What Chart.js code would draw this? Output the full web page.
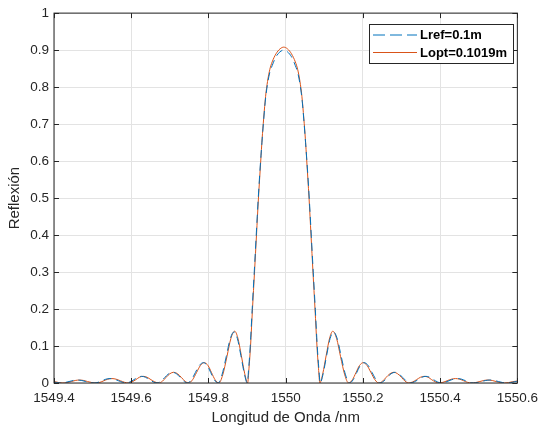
<!DOCTYPE html>
<html>
<head>
<meta charset="utf-8">
<script src="https://cdn.jsdelivr.net/npm/chart.js@4/dist/chart.umd.min.js"></script>
<style>
  html, body { margin: 0; padding: 0; background: #fff; }
  #wrap { width: 545px; height: 428px; }
</style>
</head>
<body>
<div id="wrap"><canvas id="grafica"></canvas></div>
<script>
// centre of the spectrum (nm) and one-sided offsets
const centro = 1549.995;

const refOffset = [0, 0.010, 0.020, 0.030, 0.0365, 0.0425, 0.0475, 0.0525, 0.0565, 0.0605, 0.0663, 0.0714, 0.0765, 0.0818, 0.0868, 0.0908, 0.0945,
    0.102, 0.111, 0.120, 0.129, 0.139, 0.149, 0.160, 0.170,
    0.180, 0.189, 0.198, 0.208, 0.219, 0.229, 0.239, 0.249,
    0.259, 0.268, 0.278, 0.288, 0.298, 0.308, 0.318, 0.328,
    0.338, 0.348, 0.358, 0.368, 0.378, 0.388, 0.398, 0.407,
    0.417, 0.428, 0.439, 0.450, 0.461, 0.471, 0.481, 0.491,
    0.502, 0.513, 0.523, 0.534, 0.545, 0.556, 0.567, 0.578,
    0.588, 0.598, 0.616];
const refValor = [0.900, 0.895, 0.882, 0.858, 0.838, 0.805, 0.765, 0.705, 0.650, 0.592, 0.495, 0.397, 0.298, 0.198, 0.099, 0.04, 0,
    0.025, 0.074, 0.120, 0.138, 0.118, 0.071, 0.022, 0,
    0.009, 0.028, 0.047, 0.055, 0.047, 0.028, 0.009, 0,
    0.005, 0.015, 0.025, 0.029, 0.025, 0.015, 0.005, 0,
    0.003, 0.009, 0.0155, 0.018, 0.0155, 0.009, 0.003, 0,
    0.0018, 0.006, 0.0102, 0.012, 0.0102, 0.006, 0.0018, 0,
    0.0012, 0.004, 0.0068, 0.008, 0.0068, 0.004, 0.0012, 0,
    0.001, 0.0035, 0.0058];

const optOffset = [0, 0.010, 0.020, 0.030, 0.036, 0.042, 0.047, 0.052, 0.056, 0.0596, 0.0655, 0.0706, 0.0757, 0.081, 0.086, 0.090, 0.0935,
    0.101, 0.110, 0.119, 0.127, 0.137, 0.147, 0.158, 0.168,
    0.178, 0.187, 0.196, 0.206, 0.216, 0.226, 0.236, 0.246,
    0.256, 0.265, 0.275, 0.285, 0.295, 0.305, 0.314, 0.324,
    0.334, 0.344, 0.354, 0.364, 0.374, 0.383, 0.393, 0.402,
    0.412, 0.423, 0.434, 0.445, 0.456, 0.466, 0.476, 0.486,
    0.497, 0.508, 0.518, 0.529, 0.540, 0.550, 0.561, 0.572,
    0.582, 0.592, 0.61];
const optValor = [0.908, 0.903, 0.890, 0.868, 0.848, 0.815, 0.775, 0.715, 0.660, 0.60, 0.50, 0.40, 0.30, 0.20, 0.10, 0.04, 0,
    0.025, 0.075, 0.122, 0.14, 0.12, 0.072, 0.022, 0,
    0.009, 0.028, 0.047, 0.055, 0.047, 0.028, 0.009, 0,
    0.005, 0.015, 0.025, 0.029, 0.025, 0.015, 0.005, 0,
    0.003, 0.009, 0.0155, 0.018, 0.0155, 0.009, 0.003, 0,
    0.0018, 0.006, 0.0102, 0.012, 0.0102, 0.006, 0.0018, 0,
    0.0012, 0.004, 0.0068, 0.008, 0.0068, 0.004, 0.0012, 0,
    0.001, 0.0035, 0.0058];

const xTicks = [1549.4, 1549.6, 1549.8, 1550, 1550.2, 1550.4, 1550.6];
const yTicks = [0, 0.1, 0.2, 0.3, 0.4, 0.5, 0.6, 0.7, 0.8, 0.9, 1];

// mirror one-sided offsets around the centre
function espectro(offsets, valores) {
    let pts = [];
    for (let i = offsets.length - 1; i > 0; i--)
        pts.push({x: centro - offsets[i], y: valores[i]});
    for (let i = 0; i < offsets.length; i++)
        pts.push({x: centro + offsets[i], y: valores[i]});
    return pts;
}

const ejeColor = '#262626';
const fuente = "'Liberation Sans', Arial, Helvetica, sans-serif";

const marco = {
    id: 'marco',
    afterDraw(chart) {
        const ctx = chart.ctx;
        const a = chart.chartArea;
        const sx = chart.scales.x, sy = chart.scales.y;
        ctx.save();
        ctx.strokeStyle = ejeColor;
        ctx.lineWidth = 1;
        ctx.strokeRect(a.left, a.top, a.right - a.left, a.bottom - a.top);
        ctx.beginPath();
        xTicks.forEach(v => {
            let px = Math.round(sx.getPixelForValue(v)) + 0.5;
            ctx.moveTo(px, a.bottom); ctx.lineTo(px, a.bottom - 5);
            ctx.moveTo(px, a.top); ctx.lineTo(px, a.top + 5);
        });
        yTicks.forEach(v => {
            let py = Math.round(sy.getPixelForValue(v)) + 0.5;
            ctx.moveTo(a.left, py); ctx.lineTo(a.left + 5, py);
            ctx.moveTo(a.right, py); ctx.lineTo(a.right - 5, py);
        });
        ctx.stroke();

        // legend box
        const bx = 369, by = 24, bw = 144, bh = 39;
        ctx.fillStyle = '#fff';
        ctx.fillRect(bx, by, bw, bh);
        ctx.strokeStyle = ejeColor;
        ctx.strokeRect(bx + 0.5, by + 0.5, bw, bh);
        ctx.font = "bold 13px " + fuente;
        ctx.textBaseline = 'middle';
        chart.data.datasets.forEach((ds, i) => {
            let y = by + 11 + i * 17.5;
            ctx.beginPath();
            ctx.strokeStyle = ds.borderColor;
            ctx.lineWidth = 1;
            ctx.setLineDash(ds.borderDash ? [12, 5] : []);
            ctx.moveTo(373, y); ctx.lineTo(417, y);
            ctx.stroke();
            ctx.setLineDash([]);
            ctx.fillStyle = '#000';
            ctx.fillText(ds.label, 420, y + 0.5);
        });
        ctx.restore();
    }
};

const data = {
    datasets: [{
            label: 'Lref=0.1m',
            data: espectro(refOffset, refValor),
            borderColor: '#0072BD',
            borderWidth: 1,
            borderDash: [8, 5],
            pointRadius: 0,
            cubicInterpolationMode: 'monotone',
            fill: false
        }, {
            label: 'Lopt=0.1019m',
            data: espectro(optOffset, optValor),
            borderColor: '#D95319',
            borderWidth: 1,
            pointRadius: 0,
            cubicInterpolationMode: 'monotone',
            fill: false
        }]
};

const config = {
    type: 'line',
    data: data,
    plugins: [marco],
    options: {
        responsive: true,
        maintainAspectRatio: false,
        animation: false,
        layout: {padding: {top: 13, right: 21, left: 0, bottom: 0}},
        plugins: {
            legend: {display: false},
            tooltip: {enabled: false}
        },
        scales: {
            x: {
                type: 'linear',
                min: 1549.4,
                max: 1550.6,
                afterBuildTicks: s => { s.ticks = xTicks.map(v => ({value: v})); },
                afterFit: s => { s.height = 45; },
                ticks: {
                    callback: v => String(Number(v.toFixed(1))),
                    color: ejeColor,
                    font: {family: fuente, size: 13.5},
                    padding: 7,
                    maxRotation: 0,
                    autoSkip: false
                },
                grid: {color: '#e3e3e3', drawTicks: false},
                border: {display: false},
                title: {
                    display: true,
                    text: 'Longitud de Onda /nm',
                    color: ejeColor,
                    font: {family: fuente, size: 15},
                    padding: {top: 0, bottom: 1}
                }
            },
            y: {
                min: 0,
                max: 1,
                afterBuildTicks: s => { s.ticks = yTicks.map(v => ({value: v})); },
                afterFit: s => { s.width = 54; },
                ticks: {
                    callback: v => String(Number(v.toFixed(1))),
                    color: ejeColor,
                    font: {family: fuente, size: 13.5},
                    padding: 5
                },
                grid: {color: '#e3e3e3', drawTicks: false},
                border: {display: false},
                title: {
                    display: true,
                    text: 'Reflexión',
                    color: ejeColor,
                    font: {family: fuente, size: 15},
                    padding: {top: 6, bottom: 0}
                }
            }
        }
    }
};

let ctx = document.getElementById('grafica').getContext('2d');
new Chart(ctx, config);
</script>
</body>
</html>
